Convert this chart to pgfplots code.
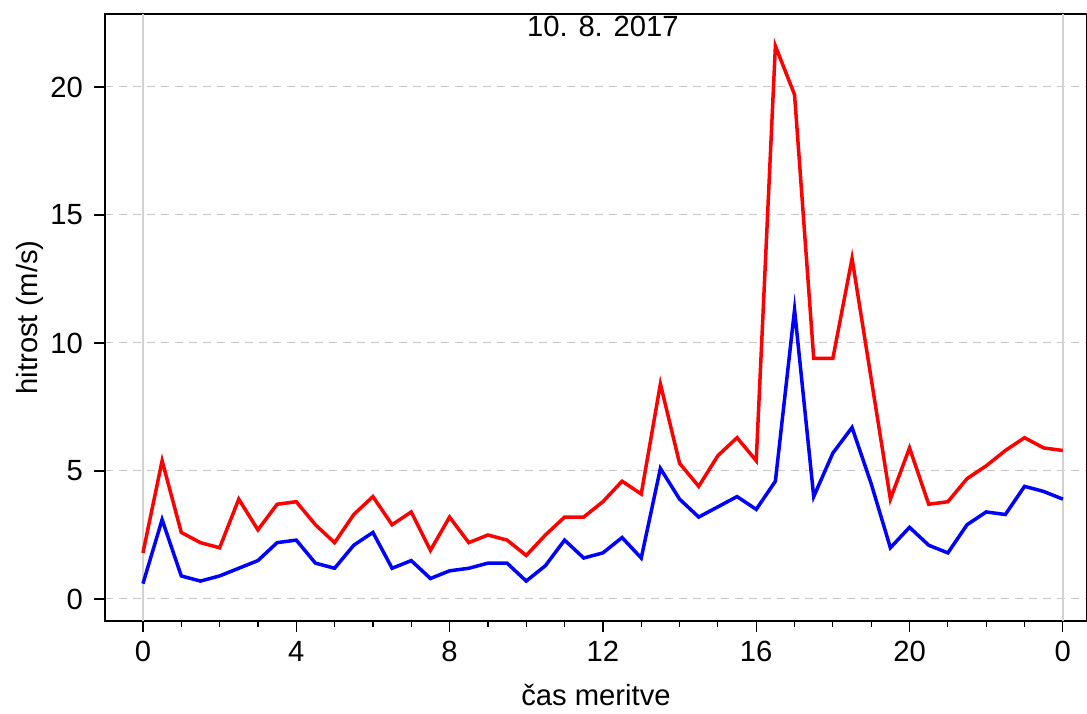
\documentclass[border=0pt]{standalone}
\usepackage{pgfplots}
\pgfplotsset{compat=1.18}
\usepackage{fontspec}
\setmainfont{Liberation Sans}
\usetikzlibrary{calc}
\pgfplotstableread{
x vmax vavg
0 1.8 0.6
0.5 5.4 3.1
1 2.6 0.9
1.5 2.2 0.7
2 2.0 0.9
2.5 3.9 1.2
3 2.7 1.5
3.5 3.7 2.2
4 3.8 2.3
4.5 2.9 1.4
5 2.2 1.2
5.5 3.3 2.1
6 4.0 2.6
6.5 2.9 1.2
7 3.4 1.5
7.5 1.9 0.8
8 3.2 1.1
8.5 2.2 1.2
9 2.5 1.4
9.5 2.3 1.4
10 1.7 0.7
10.5 2.5 1.3
11 3.2 2.3
11.5 3.2 1.6
12 3.8 1.8
12.5 4.6 2.4
13 4.1 1.6
13.5 8.4 5.1
14 5.3 3.9
14.5 4.4 3.2
15 5.6 3.6
15.5 6.3 4.0
16 5.4 3.5
16.5 21.6 4.6
17 19.7 11.3
17.5 9.4 4.0
18 9.4 5.7
18.5 13.3 6.7
19 8.6 4.5
19.5 3.9 2.0
20 5.9 2.8
20.5 3.7 2.1
21 3.8 1.8
21.5 4.7 2.9
22 5.2 3.4
22.5 5.8 3.3
23 6.3 4.4
23.5 5.9 4.2
24 5.8 3.9
}\data
\begin{document}
\begin{tikzpicture}
\begin{axis}[
  scale only axis,
  width=491pt, height=303.5pt,
  xmin=-0.99, xmax=24.63,
  ymin=-0.86, ymax=22.85,
  font=\fontsize{14.6pt}{16pt}\selectfont,
  /pgf/number format/assume math mode=true,
  axis line style={black, line width=0.8pt},
  tick style={black, line width=0.6pt},
  tick align=outside,
  xtick pos=bottom, ytick pos=left,
  xtick={0,4,8,12,16,20,24},
  xticklabels={0,4,8,12,16,20,0},
  minor x tick num=3,
  major tick length=5.5pt,
  minor tick length=3pt,
  ytick={0,5,10,15,20},
  yticklabel style={xshift=-2pt},
  xticklabel style={yshift=-1pt},
  ymajorgrids,
  major grid style={densely dashed, gray!45, line width=0.5pt, dash pattern=on 4pt off 3pt},
  extra x ticks={0,24},
  extra x tick labels={},
  extra x tick style={grid=major, major tick length=0pt, major grid style={solid, gray!35, line width=0.8pt}},
  title={10. 8. 2017},
  title style={at={(axis description cs:0.507,1)}, anchor=north, yshift=-3.5pt},
  xlabel={čas meritve},
  ylabel={hitrost (m/s)},
  xlabel style={at={(axis description cs:0.5,-0.14)}, anchor=base, inner sep=0pt},
  ylabel style={at={(axis description cs:-0.0764,0.5)}, anchor=center},
]
\addplot[red, line width=1.75pt, no markers] table[x=x, y=vmax] {\data};
\addplot[blue, line width=1.75pt, no markers] table[x=x, y=vavg] {\data};
\end{axis}
\pgfresetboundingbox
\useasboundingbox ($(current axis.south west)+(-52.5pt,-46pt)$) rectangle ($(current axis.north east)+(0pt,7pt)$);
\end{tikzpicture}
\end{document}
